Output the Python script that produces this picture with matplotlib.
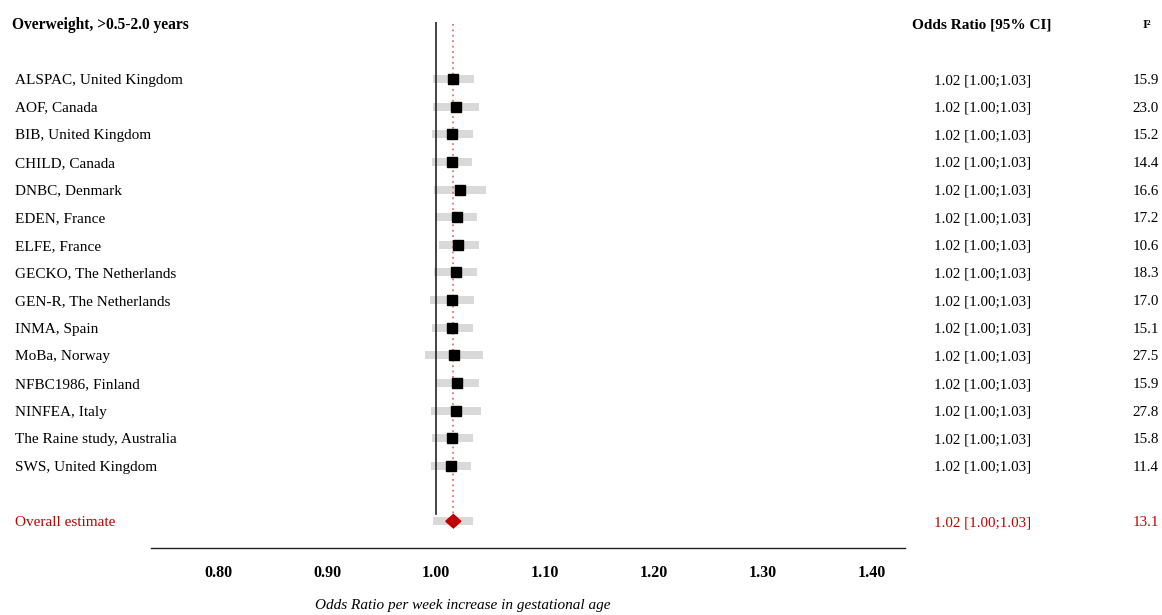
import matplotlib
matplotlib.use("Agg")
import matplotlib.pyplot as plt
from matplotlib.patches import Polygon
from matplotlib.transforms import blended_transform_factory

plt.rcParams['font.family'] = ['Liberation Serif', 'DejaVu Serif']

title = "Overweight, >0.5-2.0 years"
studies = ["ALSPAC, United Kingdom", "AOF, Canada", "BIB, United Kingdom", "CHILD, Canada",
           "DNBC, Denmark", "EDEN, France", "ELFE, France", "GECKO, The Netherlands",
           "GEN-R, The Netherlands", "INMA, Spain", "MoBa, Norway", "NFBC1986, Finland",
           "NINFEA, Italy", "The Raine study, Australia", "SWS, United Kingdom"]
or_est = [1.0159, 1.0181, 1.0150, 1.0150, 1.0217, 1.0190, 1.0205, 1.0181,
          1.0144, 1.0150, 1.0165, 1.0195, 1.0181, 1.0150, 1.0135]
ci_lo = [0.9975, 0.9975, 0.9963, 0.9963, 0.9985, 0.9994, 1.0028, 0.9985,
         0.9948, 0.9963, 0.9902, 1.0009, 0.9954, 0.9963, 0.9954]
ci_hi = [1.0349, 1.0394, 1.0339, 1.0330, 1.0456, 1.0379, 1.0394, 1.0379,
         1.0349, 1.0339, 1.0431, 1.0394, 1.0410, 1.0339, 1.0318]
or_text = ["1.02 [1.00;1.03]"] * 15
i2 = ["15.9", "23.0", "15.2", "14.4", "16.6", "17.2", "10.6", "18.3",
      "17.0", "15.1", "27.5", "15.9", "27.8", "15.8", "11.4"]
overall_label = "Overall estimate"
overall_est = 1.0159
overall_lo = 0.9972
overall_hi = 1.0339
overall_text = "1.02 [1.00;1.03]"
overall_i2 = "13.1"
xticks = [0.80, 0.90, 1.00, 1.10, 1.20, 1.30, 1.40]
xlabel = "Odds Ratio per week increase in gestational age"

W, H = 1162, 615
fig = plt.figure(figsize=(W / 100, H / 100), dpi=100)
ax = fig.add_axes([151 / W, (H - 548) / H, 754 / W, 526 / H])

row_px = 27.64
ax.set_xlim(1.0 + (151 - 436) / 1090, 1.0 + (905 - 436) / 1090)
ax.set_ylim((548 - 79) / row_px, (22 - 79) / row_px)

rows = list(range(len(studies)))
overall_row = len(studies) + 1

red = '#c00000'
grey = '#d9d9d9'

# CI bars
bar_h = 8 / row_px
ax.barh(rows, [h - l for l, h in zip(ci_lo, ci_hi)], left=ci_lo, height=bar_h,
        color=grey, zorder=1)
ax.barh([overall_row], [overall_hi - overall_lo], left=[overall_lo], height=bar_h,
        color=grey, zorder=1)

# reference lines
top = (22 - 79) / row_px
ax.plot([1.0, 1.0], [top, overall_row - 0.25], color='#222222', lw=1.2, zorder=2)
ax.plot([overall_est, overall_est], [top + 2 / row_px, overall_row], color='#e57373',
        lw=1.3, ls=(0, (1, 2)), zorder=2)

# point estimates
ax.plot(or_est, rows, 's', color='black', markersize=7.5, zorder=3)
hw = 7.5 / 1090
hh = 6.7 / row_px
ax.add_patch(Polygon([(overall_est - hw, overall_row), (overall_est, overall_row - hh),
                      (overall_est + hw, overall_row), (overall_est, overall_row + hh)],
                     closed=True, facecolor=red, edgecolor=red, zorder=4))

# axes styling
for s in ['top', 'left', 'right']:
    ax.spines[s].set_visible(False)
ax.spines['bottom'].set_linewidth(1.0)
ax.spines['bottom'].set_color('#222222')
ax.set_yticks([])
ax.set_xticks(xticks)
ax.set_xticklabels([f"{t:.2f}" for t in xticks], fontweight='bold', fontsize=11.5)
ax.tick_params(axis='x', length=0, pad=12)
ax.patch.set_alpha(0)

fig.text(463 / W, 1 - 606 / H, xlabel, ha='center', va='center', fontsize=11,
         style='italic')

tr = blended_transform_factory(fig.transFigure, ax.transData)
fs = 11
dy = 1.5 / row_px
header_row = (23 - 79) / row_px
ax.text(12 / W, header_row + dy, title, transform=tr, ha='left', va='center',
        fontsize=11.2, fontweight='bold')
ax.text(982 / W, header_row + dy, "Odds Ratio [95% CI]", transform=tr, ha='center',
        va='center', fontsize=11, fontweight='bold')
ax.text(1147 / W, header_row + dy, "I²", transform=tr, ha='center', va='center',
        fontsize=9, fontweight='bold')

for r, name, ot, iv in zip(rows, studies, or_text, i2):
    ax.text(15 / W, r + dy, name, transform=tr, ha='left', va='center', fontsize=fs)
    ax.text(934 / W, r + dy, ot, transform=tr, ha='left', va='center', fontsize=10.8)
    ax.text(1159 / W, r + dy, iv, transform=tr, ha='right', va='center', fontsize=10.8)

ax.text(15 / W, overall_row + dy, overall_label, transform=tr, ha='left', va='center',
        fontsize=fs, color=red)
ax.text(934 / W, overall_row + dy, overall_text, transform=tr, ha='left', va='center',
        fontsize=10.8, color=red)
ax.text(1159 / W, overall_row + dy, overall_i2, transform=tr, ha='right', va='center',
        fontsize=10.8, color=red)

fig.savefig("out.png", dpi=100)
